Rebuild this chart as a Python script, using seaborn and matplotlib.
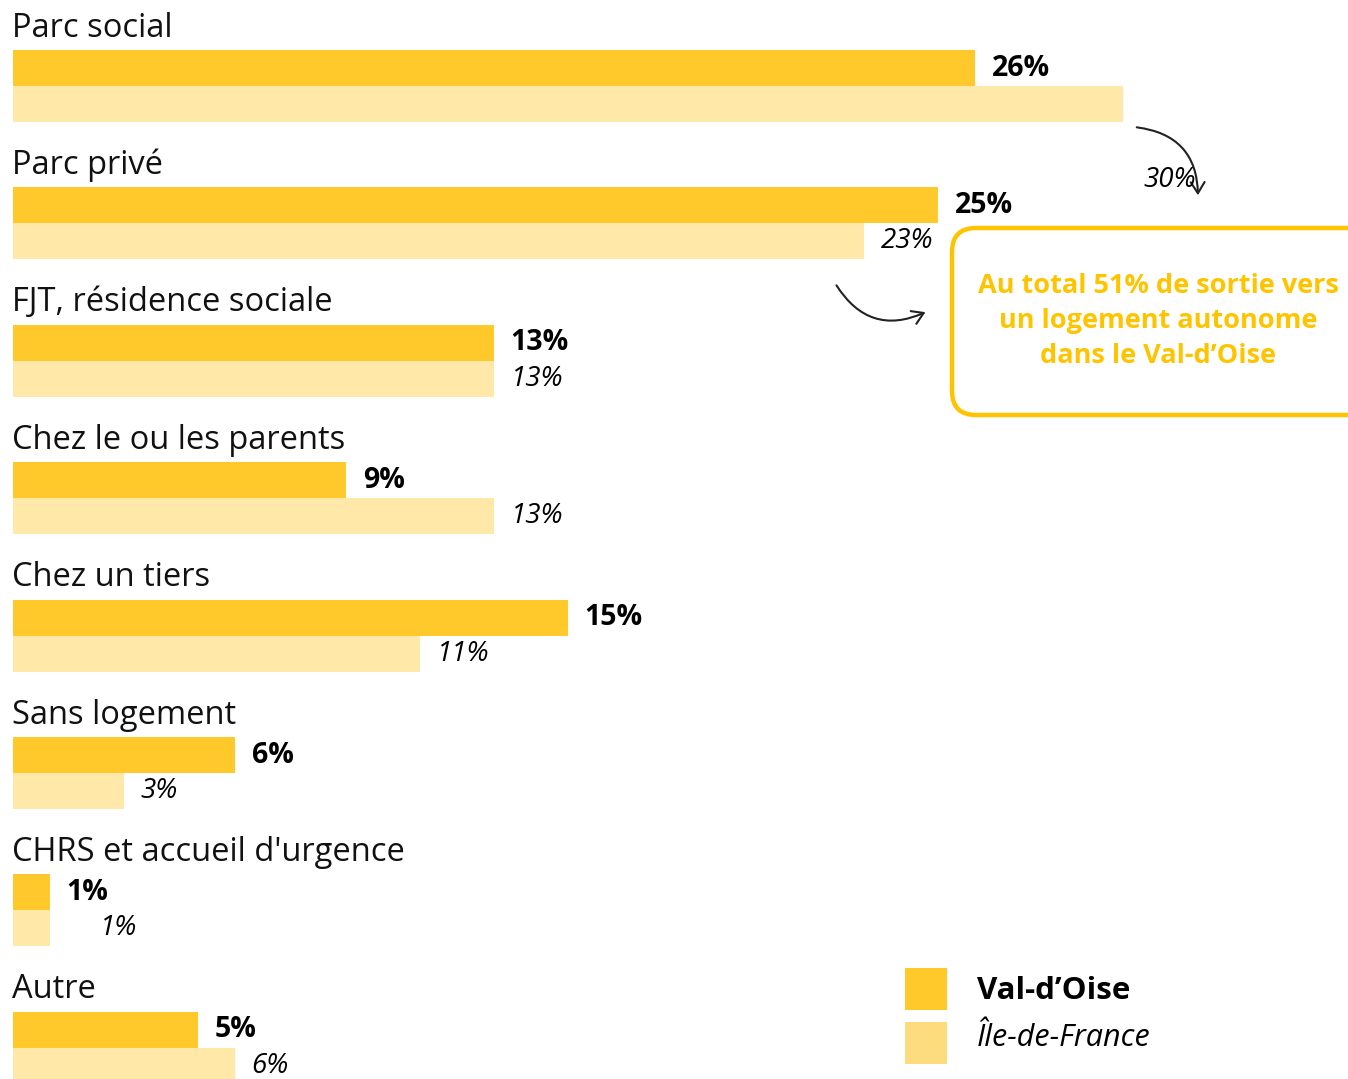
import pandas as pd
import seaborn as sns
import matplotlib.pyplot as plt
import matplotlib.transforms as mtransforms
from matplotlib.patches import FancyBboxPatch, FancyArrowPatch, Rectangle

# data
categories = ["Parc social", "Parc privé", "FJT, résidence sociale", "Chez le ou les parents",
              "Chez un tiers", "Sans logement", "CHRS et accueil d'urgence", "Autre"]
val_doise = [26, 25, 13, 9, 15, 6, 1, 5]
idf = [30, 23, 13, 13, 11, 3, 1, 6]
series = ["Val-d’Oise", "Île-de-France"]

dark = "#FFC92B"
light = "#FFE8A8"
box_col = "#FFC400"

sns.set_theme(style="white")
plt.rcParams['font.family'] = ['Open Sans', 'DejaVu Sans']

df = pd.DataFrame({
    "cat": categories * 2,
    "serie": [series[0]] * len(categories) + [series[1]] * len(categories),
    "val": val_doise + idf,
})

W, H = 1348, 1079
fig = plt.figure(figsize=(W / 100, H / 100), dpi=100)
ax = fig.add_axes([0, 0, 1, 1])

sns.barplot(data=df, y="cat", x="val", hue="serie", order=categories, hue_order=series,
            palette=[dark, light], saturation=1, width=0.524, linewidth=0,
            orient="h", legend=False, ax=ax)

# pixel mapping: x0 at 13px, 37px per %, category centres every 137.4px from 86px
ppu, x0 = 37.0, 13
ax.set_xlim(-x0 / ppu, (W - x0) / ppu)
ax.set_ylim((H - 86) / 137.4, -86 / 137.4)
ax.axis("off")

# pixel transform (y down) for annotations
pix = mtransforms.Affine2D().scale(1 / 100, -1 / 100).translate(0, H / 100) + fig.dpi_scale_trans

bar_h = 0.262
for i, cat in enumerate(categories):
    ax.text(12 / ppu - x0 / ppu, i - bar_h - 0.16, cat, fontsize=23.5, va="center", ha="left", color="#111111")
    ax.text(val_doise[i] + 0.45, i - bar_h / 2, f"{val_doise[i]}%", fontsize=20.5,
            fontweight="bold", va="center", ha="left", color="black")
    if i == 0:
        continue
    xi = idf[i] + 0.45
    if i == 6:
        xi = 2.35
    ax.text(xi, i + bar_h / 2, f"{idf[i]}%", fontsize=20, fontstyle="italic",
            va="center", ha="left", color="black")

# 30% label with curved arrow
ax.text(1143, 180, f"{idf[0]}%", transform=pix, fontsize=20, fontstyle="italic",
        va="center", ha="left", color="black")
ax.add_patch(FancyArrowPatch((1134, 127), (1198, 198), transform=pix,
                             connectionstyle="arc3,rad=-0.45", arrowstyle="->,head_length=8,head_width=5",
                             color="#222222", lw=1.5))
ax.add_patch(FancyArrowPatch((835, 283), (928, 311), transform=pix,
                             connectionstyle="arc3,rad=0.45", arrowstyle="->,head_length=8,head_width=5",
                             color="#222222", lw=1.5))

# highlight box
ax.add_patch(FancyBboxPatch((952, 228), 430, 187, transform=pix,
                            boxstyle="round,pad=0,rounding_size=24",
                            facecolor="white", edgecolor=box_col, lw=3.2, clip_on=False))
ax.text(1158, 321, "Au total 51% de sortie vers\nun logement autonome\ndans le Val-d’Oise",
        transform=pix, fontsize=19.5, fontweight="bold", color=box_col, ha="center", va="center",
        linespacing=1.45)

# legend
ax.add_patch(Rectangle((905, 968), 42, 42, transform=pix, facecolor=dark, lw=0))
ax.add_patch(Rectangle((905, 1022), 42, 42, transform=pix, facecolor="#FDDC7E", lw=0))
ax.text(977, 991, series[0], transform=pix, fontsize=22.5, fontweight="bold", va="center", ha="left", color="black")
ax.text(977, 1038, series[1], transform=pix, fontsize=22, fontstyle="italic", va="center", ha="left", color="black")

fig.savefig("out.png", dpi=100, facecolor="white")
